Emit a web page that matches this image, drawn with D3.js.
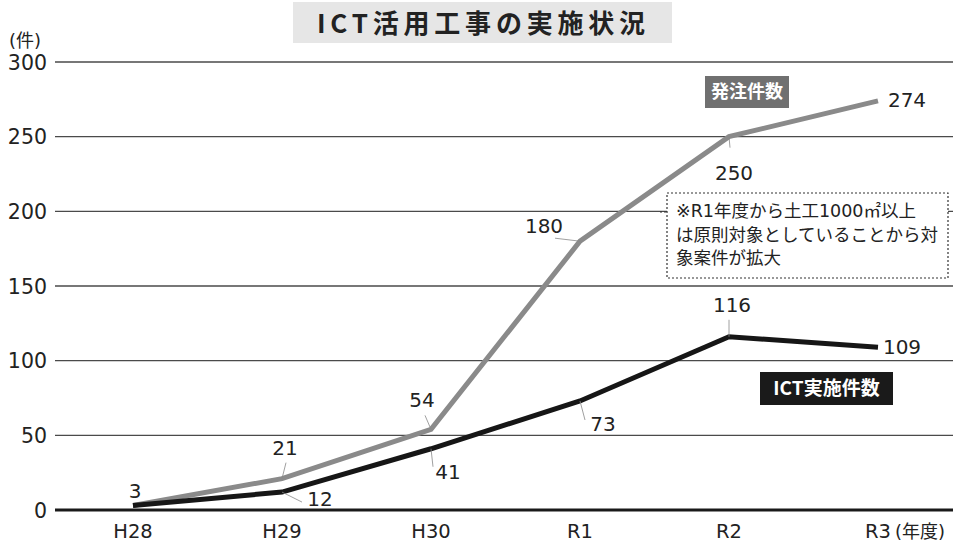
<!DOCTYPE html>
<html>
<head>
<meta charset="utf-8">
<script src="https://cdn.jsdelivr.net/npm/d3@7/dist/d3.min.js"></script>
<style>
  html, body { margin: 0; padding: 0; background: #fff; }
  svg { display: block; }
  text { font-family: "DejaVu Sans", "Noto Sans CJK JP", sans-serif; fill: #222; }
  .jp { font-family: "Noto Sans CJK JP", sans-serif; }
</style>
</head>
<body>
<div id="chart"></div>
<script>
// ICT活用工事の実施状況 - line chart

const years = ['H28', 'H29', 'H30', 'R1', 'R2', 'R3'];
const orders = [3, 21, 54, 180, 250, 274];      // 発注件数
const ictDone = [3, 12, 41, 73, 116, 109];      // ICT実施件数
const yTicks = [0, 50, 100, 150, 200, 250, 300];
const noteLines = ['※R1年度から土工1000㎡以上', 'は原則対象としていることから対', '象案件が拡大'];

// label placement relative to each point: [dx, dy(baseline), leaderX, leaderY] (null = no label)
const orderLabelPos = [[2, -8], [3, -24, 4, -16], [-9, -22, -6, -14], [-36, -8, -25, -3], [5, 43, 1, 11], [29, 6]];
const ictLabelPos = [null, [38, 14, 20, 10], [17, 30, 2, 18], [23, 30, 5, 19], [3, -25, 0, -17], [24, 7]];

const width = 953, height = 558;
const svg = d3.select('#chart').append('svg')
    .attr('width', width)
    .attr('height', height);

const x = d3.scalePoint().domain(years).range([133, 878]);
const y = d3.scaleLinear().domain([0, 300]).range([510, 62]);

// grid
const grid = svg.append('g');
grid.selectAll('line')
    .data(yTicks)
    .enter()
    .append('line')
    .attr('x1', 55)
    .attr('x2', width)
    .attr('y1', d => y(d))
    .attr('y2', d => y(d))
    .style('stroke', d => d === 0 ? '#1a1a1a' : '#4a4a4a')
    .style('stroke-width', d => d === 0 ? 3 : 1.4);

// y labels
svg.append('g').selectAll('text')
    .data(yTicks)
    .enter()
    .append('text')
    .attr('x', 47)
    .attr('y', d => y(d) + 7.5)
    .attr('text-anchor', 'end')
    .style('font-size', '20.5px')
    .text(d => d);

svg.append('text')
    .attr('x', 9)
    .attr('y', 47)
    .style('font-size', '18px')
    .text('(件)');

// x labels
svg.append('g').selectAll('text')
    .data(years)
    .enter()
    .append('text')
    .attr('x', d => x(d))
    .attr('y', 538)
    .attr('text-anchor', 'middle')
    .style('font-size', '19.5px')
    .text(d => d);

svg.append('text')
    .attr('x', x('R3') + 17)
    .attr('y', 538)
    .style('font-size', '18px')
    .text('(年度)');

// title
svg.append('rect')
    .attr('x', 293).attr('y', 2)
    .attr('width', 379).attr('height', 41)
    .style('fill', '#e6e6e6');
svg.append('text')
    .attr('class', 'jp')
    .attr('x', 317)
    .attr('y', 33)
    .attr('textLength', 328)
    .attr('lengthAdjust', 'spacing')
    .style('font-size', '26px')
    .style('font-weight', 'bold')
    .text('ICT活用工事の実施状況');

// note box
const note = svg.append('g');
note.append('rect')
    .attr('x', 667).attr('y', 193)
    .attr('width', 281).attr('height', 85)
    .style('fill', '#fff')
    .style('stroke', '#333')
    .style('stroke-width', 1.2)
    .style('stroke-dasharray', '2,2');
note.append('line')
    .attr('x1', 660).attr('x2', 667)
    .attr('y1', 212).attr('y2', 212)
    .style('stroke', '#333')
    .style('stroke-width', 1.2)
    .style('stroke-dasharray', '2,2');
note.selectAll('text')
    .data(noteLines)
    .enter()
    .append('text')
    .attr('x', 676)
    .attr('y', (d, i) => 217 + i * 23.5)
    .style('font-size', '17.5px')
    .text(d => d);

// lines
const line = d3.line()
    .x((d, i) => x(years[i]))
    .y(d => y(d));

svg.append('path')
    .datum(orders)
    .attr('d', line)
    .style('fill', 'none')
    .style('stroke', '#8a8a8a')
    .style('stroke-width', 5);

svg.append('path')
    .datum(ictDone)
    .attr('d', line)
    .style('fill', 'none')
    .style('stroke', '#161616')
    .style('stroke-width', 5);

// value labels with leader lines
function addLabels(values, pos) {
    const g = svg.append('g');
    values.forEach((v, i) => {
        const p = pos[i];
        if (!p) return;
        const px = x(years[i]), py = y(v);
        if (p.length > 2) {
            g.append('line')
                .attr('x1', px).attr('y1', py)
                .attr('x2', px + p[2]).attr('y2', py + p[3])
                .style('stroke', '#888')
                .style('stroke-width', 0.8);
        }
        g.append('text')
            .attr('x', px + p[0])
            .attr('y', py + p[1])
            .attr('text-anchor', 'middle')
            .style('font-size', '20px')
            .text(v);
    });
}
addLabels(orders, orderLabelPos);
addLabels(ictDone, ictLabelPos);

// legend tags
function tag(x0, y0, w, h, fill, label, size) {
    svg.append('rect')
        .attr('x', x0).attr('y', y0)
        .attr('width', w).attr('height', h)
        .style('fill', fill);
    svg.append('text')
        .attr('class', 'jp')
        .attr('x', x0 + w / 2)
        .attr('y', y0 + h / 2 + size * 0.36)
        .attr('text-anchor', 'middle')
        .style('fill', '#fff')
        .style('font-size', size + 'px')
        .style('font-weight', 'bold')
        .text(label);
}
tag(705, 76, 84, 32, '#707070', '発注件数', 18);
tag(760, 372, 133, 33, '#1a1a1a', 'ICT実施件数', 19);
</script>
</body>
</html>
